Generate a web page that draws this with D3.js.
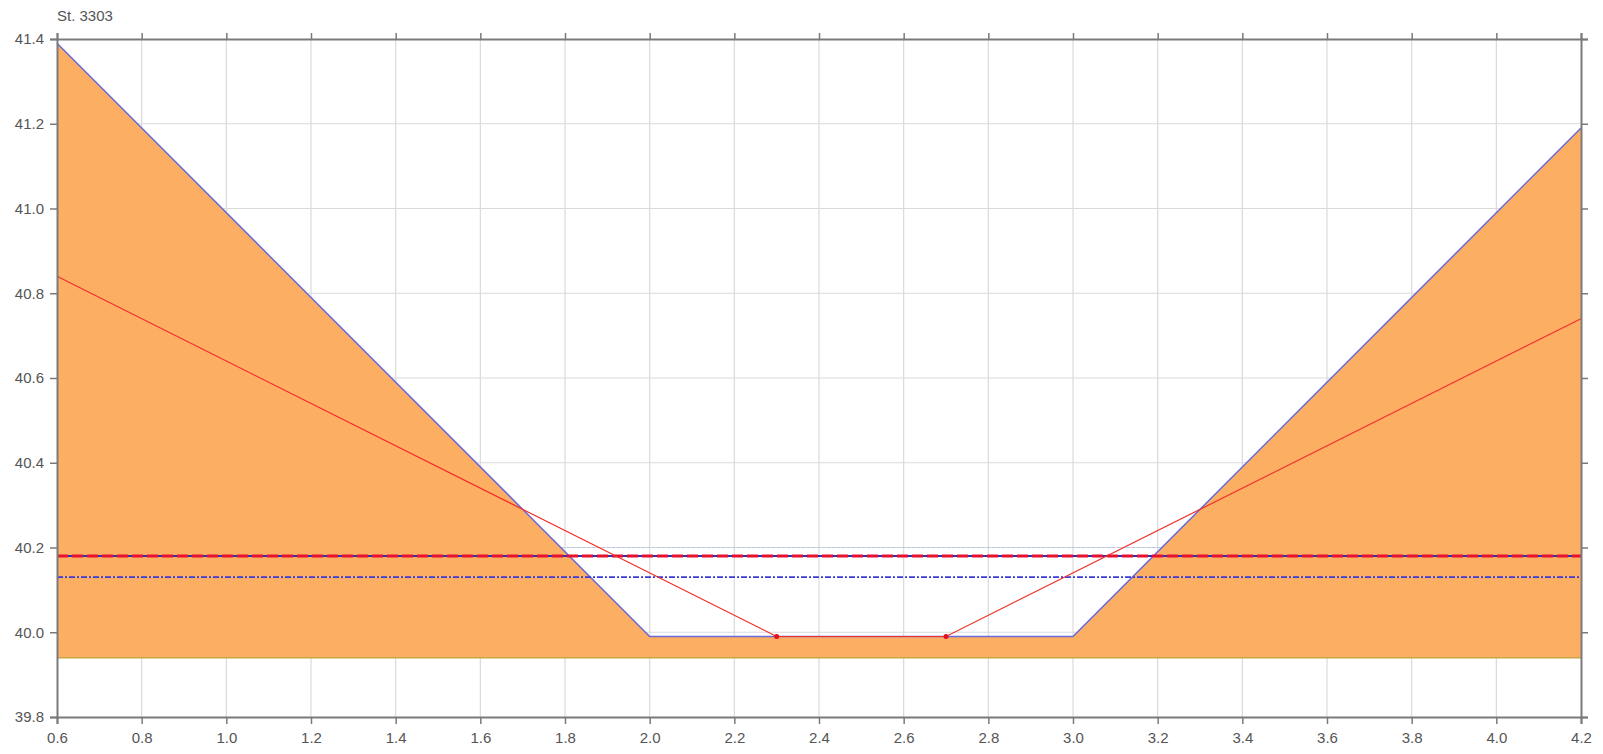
<!DOCTYPE html>
<html><head><meta charset="utf-8">
<script src="https://cdn.jsdelivr.net/npm/d3@7"></script>
<style>body{margin:0;background:#fff;}svg{display:block;font-family:"Liberation Sans",Arial,sans-serif;}</style>
</head><body>
<svg id="c" width="1603" height="754"></svg>
<script>
const title = "St. 3303";
const xTicks = [0.6,0.8,1.0,1.2,1.4,1.6,1.8,2.0,2.2,2.4,2.6,2.8,3.0,3.2,3.4,3.6,3.8,4.0,4.2];
const yTicks = [39.8,40.0,40.2,40.4,40.6,40.8,41.0,41.2,41.4];
const groundX = [0.6, 2.0, 3.0, 4.2];
const groundY = [41.39, 39.99, 39.99, 41.19];
const baseLevel = 39.94;
const designX = [0.6, 2.3, 2.7, 4.2];
const designY = [40.84, 39.99, 39.99, 40.74];
const designDots = [[2.3, 39.99], [2.7, 39.99]];
const gridLevel = 40.20;
const waterLevel = 40.18;
const lowLevel = 40.13;

const W = 1603, H = 754;
const m = {l:57, r:22, t:39, b:37};
const svg = d3.select("#c");
const x = d3.scaleLinear().domain([0.6, 4.2]).range([m.l, W - m.r]);
const y = d3.scaleLinear().domain([39.8, 41.4]).range([H - m.b, m.t]);

// grid
const g = svg.append("g");
g.selectAll(".vx").data(xTicks.slice(1, -1)).join("line")
  .attr("x1", d => x(d)).attr("x2", d => x(d)).attr("y1", y(41.4)).attr("y2", y(39.8))
  .attr("stroke", "#dadada").attr("stroke-width", 1.2);
g.selectAll(".hy").data(yTicks.slice(1, -1)).join("line")
  .attr("y1", d => y(d)).attr("y2", d => y(d)).attr("x1", x(0.6)).attr("x2", x(4.2))
  .attr("stroke", "#dadada").attr("stroke-width", 1.2);
svg.append("line").attr("x1", x(0.6)).attr("x2", x(4.2)).attr("y1", y(gridLevel)).attr("y2", y(gridLevel))
  .attr("stroke", "#b8c4ee").attr("stroke-width", 1.2).attr("stroke-dasharray", "3,2");

// fill
const ground = groundX.map((d, i) => [d, groundY[i]]);
const area = d3.area().x(d => x(d[0])).y0(y(baseLevel)).y1(d => y(d[1]));
svg.append("path").datum(ground).attr("d", area).attr("fill", "#fcae62");
svg.append("line").attr("x1", x(0.6)).attr("x2", x(4.2)).attr("y1", y(baseLevel)).attr("y2", y(baseLevel))
  .attr("stroke", "#c9a646").attr("stroke-width", 1.5);
const line = d3.line().x(d => x(d[0])).y(d => y(d[1]));
svg.append("path").datum(ground).attr("d", line).attr("fill", "none")
  .attr("stroke", "#6a6ad8").attr("stroke-width", 1.5);

// horizontal levels
svg.append("line").attr("x1", x(0.6)).attr("x2", x(4.2)).attr("y1", y(waterLevel)).attr("y2", y(waterLevel))
  .attr("stroke", "#3030b0").attr("stroke-width", 2);
svg.append("line").attr("x1", x(0.6)).attr("x2", x(4.2)).attr("y1", y(waterLevel)).attr("y2", y(waterLevel))
  .attr("stroke", "#e8102e").attr("stroke-width", 3).attr("stroke-dasharray", "11,4");
svg.append("line").attr("x1", x(0.6)).attr("x2", x(4.2)).attr("y1", y(lowLevel)).attr("y2", y(lowLevel))
  .attr("stroke", "#3a3ad8").attr("stroke-width", 1.6).attr("stroke-dasharray", "6,2,2,2");

// design line
const design = designX.map((d, i) => [d, designY[i]]);
svg.append("path").datum(design).attr("d", line).attr("fill", "none")
  .attr("stroke", "#f0302a").attr("stroke-width", 1.2);
svg.selectAll(".dot").data(designDots).join("circle")
  .attr("cx", d => x(d[0])).attr("cy", d => y(d[1])).attr("r", 2.5).attr("fill", "#e01020");

// axes
const ax = "#7a7a7a";
const axB = svg.append("g").attr("transform", `translate(0,${y(39.8)})`)
  .call(d3.axisBottom(x).tickValues(xTicks).tickFormat(d3.format(".1f")).tickSize(7).tickPadding(8));
const axL = svg.append("g").attr("transform", `translate(${x(0.6)},0)`)
  .call(d3.axisLeft(y).tickValues(yTicks).tickFormat(d3.format(".1f")).tickSize(7).tickPadding(6));
const axT = svg.append("g").attr("transform", `translate(0,${y(41.4)})`)
  .call(d3.axisTop(x).tickValues(xTicks).tickFormat("").tickSize(6));
const axR = svg.append("g").attr("transform", `translate(${x(4.2)},0)`)
  .call(d3.axisRight(y).tickValues(yTicks).tickFormat("").tickSize(7));
[axB, axL, axT, axR].forEach(a => {
  a.select(".domain").attr("stroke", ax).attr("stroke-width", 2);
  a.selectAll(".tick line").attr("stroke", ax).attr("stroke-width", 1.5);
  a.selectAll("text").attr("fill", "#555").attr("font-size", 15);
});

svg.append("text").attr("x", x(0.6)).attr("y", 21).attr("fill", "#555").attr("font-size", 15).text(title);
</script>
</body></html>
